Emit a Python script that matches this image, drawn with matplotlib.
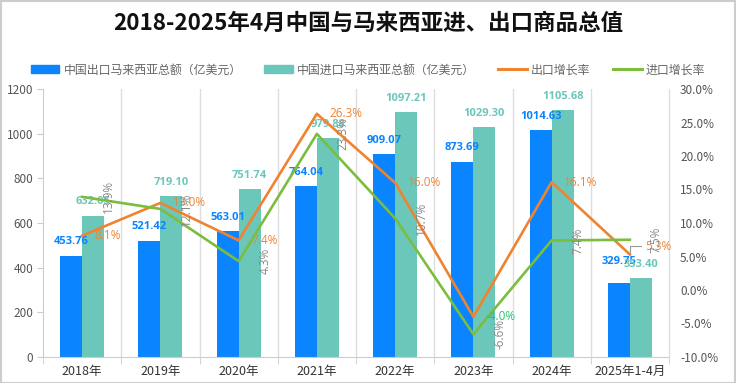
import numpy as np
import matplotlib
matplotlib.use("Agg")
import matplotlib.pyplot as plt
from matplotlib.patches import Patch, Rectangle
from matplotlib.lines import Line2D

plt.rcParams['font.family'] = ['Noto Sans CJK SC', 'DejaVu Sans']

categories = ["2018年", "2019年", "2020年", "2021年", "2022年", "2023年", "2024年", "2025年1-4月"]
export_vals = [453.76, 521.42, 563.01, 764.04, 909.07, 873.69, 1014.63, 329.75]
import_vals = [632.05, 719.10, 751.74, 979.88, 1097.21, 1029.30, 1105.68, 353.40]
export_growth = [8.1, 13.0, 7.4, 26.3, 16.0, -4.0, 16.1, 5.3]
import_growth = [13.9, 12.1, 4.3, 23.3, 10.7, -6.6, 7.4, 7.5]

title = "2018-2025年4月中国与马来西亚进、出口商品总值"
legend_labels = ["中国出口马来西亚总额（亿美元）", "中国进口马来西亚总额（亿美元）", "出口增长率", "进口增长率"]

c_exp = "#0a84ff"
c_imp = "#6cc7bb"
c_eg = "#f0832f"
c_ig = "#7bbd3d"

fig = plt.figure(figsize=(7.36, 3.83), dpi=100)
ax = fig.add_axes([43/736, 1-357/383, (669-43)/736, (357-89)/383])
ax2 = ax.twinx()

x = np.arange(len(categories))
w = 0.28
ax.bar(x - w/2, export_vals, w, color=c_exp, zorder=2)
ax.bar(x + w/2, import_vals, w, color=c_imp, zorder=2)

ax.set_ylim(0, 1200)
ax.set_yticks(np.arange(0, 1201, 200))
ax.set_xlim(-0.5, len(categories) - 0.5)
ax.set_xticks(x)
ax.set_xticklabels(categories, fontsize=9, color="#333333")
ax.set_xticks(np.arange(-0.5, len(categories), 1.0), minor=True)
ax.tick_params(axis='x', which='major', length=0, pad=6)
ax.tick_params(axis='x', which='minor', length=5, color="#cccccc")
ax.tick_params(axis='y', length=4, color="#cccccc", labelsize=8.5, labelcolor="#555555", pad=3)
for xb in np.arange(0.5, len(categories) - 0.5, 1.0):
    ax.axvline(xb, color="#dddddd", lw=1, zorder=0)
ax.spines['top'].set_visible(False)
for s in ['left', 'bottom', 'right']:
    ax.spines[s].set_color("#cccccc")
ax2.spines['top'].set_visible(False)
ax2.spines['right'].set_color("#dddddd")
ax2.spines['left'].set_visible(False)
ax2.spines['bottom'].set_visible(False)

# bar value labels
for i, v in enumerate(export_vals):
    off = 10 if i < 7 else 16
    ax.annotate(f"{v:.2f}", (x[i] - w/2, v), xytext=(0, off), textcoords="offset points",
                ha='center', va='center', fontsize=8, fontweight='bold', color=c_exp,
                family=['Open Sans', 'DejaVu Sans'], zorder=5)
for i, v in enumerate(import_vals):
    ax.annotate(f"{v:.2f}", (x[i] + w/2, v), xytext=(0, 10), textcoords="offset points",
                ha='center', va='center', fontsize=8, fontweight='bold', color=c_imp,
                family=['Open Sans', 'DejaVu Sans'], zorder=5)

ax2.plot(x, export_growth, color=c_eg, lw=1.9, zorder=3)
ax2.plot(x, import_growth, color=c_ig, lw=1.9, zorder=3)
ax2.set_ylim(-10, 30)
ax2.set_yticks(np.arange(-10, 31, 5))
ax2.set_yticklabels([f"{t:.1f}%" for t in np.arange(-10, 31, 5)])
ax2.tick_params(axis='y', length=0, labelsize=8.5, labelcolor="#555555", pad=8)

for i, v in enumerate(export_growth):
    col = c_eg if v >= 0 else "#27c46e"
    if i == len(export_growth) - 1:
        ax2.annotate(f"{v:.1f}%", (x[i], v), xytext=(11, 6), textcoords="offset points",
                     ha='left', va='center', fontsize=8.5, color=col,
                     family=['Open Sans', 'DejaVu Sans'], zorder=6,
                     arrowprops=dict(arrowstyle='-', color="#999999", lw=0.8,
                                     connectionstyle="angle,angleA=0,angleB=90,rad=0",
                                     shrinkA=1, shrinkB=1))
    else:
        ax2.annotate(f"{v:.1f}%", (x[i], v), xytext=(9, 0), textcoords="offset points",
                     ha='left', va='center', fontsize=8.5, color=col,
                     family=['Open Sans', 'DejaVu Sans'], zorder=6)
for i, v in enumerate(import_growth):
    ax2.annotate(f"{v:.1f}%", (x[i], v), xytext=(19, 0), textcoords="offset points",
                 ha='center', va='center', rotation=90, fontsize=8.5, color="#888888",
                 family=['Open Sans', 'DejaVu Sans'], zorder=6)

# title
fig.text(0.5, 1 - 23/383, title, ha='center', va='center', fontsize=16.2, fontweight='bold', color="#111111")

handles = [Patch(color=c_exp), Patch(color=c_imp),
           Line2D([0], [0], color=c_eg, lw=2.2), Line2D([0], [0], color=c_ig, lw=2.2)]
fig.legend(handles, legend_labels, loc='center', bbox_to_anchor=(0.5, 1 - 70/383), ncol=4,
           frameon=False, fontsize=8.6, handlelength=2.4, handleheight=0.6,
           handletextpad=0.35, columnspacing=1.9, labelcolor="#666666")

fig.patches.append(Rectangle((0.001, 0.001), 0.997, 0.997, transform=fig.transFigure,
                             fill=False, edgecolor="#cccccc", lw=1.5))

fig.savefig("out.png", dpi=100)
